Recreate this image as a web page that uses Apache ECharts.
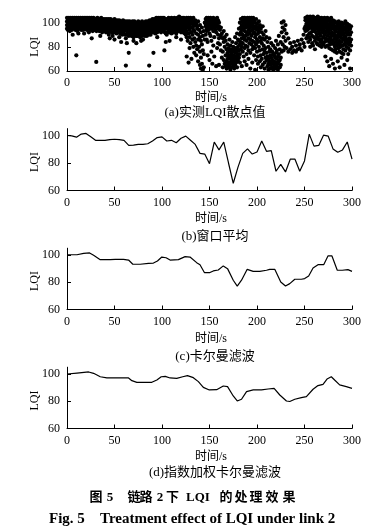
<!DOCTYPE html>
<html><head><meta charset="utf-8">
<script src="https://cdn.jsdelivr.net/npm/echarts@6/dist/echarts.min.js"></script>
<style>html,body{margin:0;padding:0;background:#fff}#c{width:385px;height:532px}</style>
</head><body><div id="c"></div>
<script>
// ---------- data ----------
const xTicks = [0, 50, 100, 150, 200, 250, 300];
const yTicks = [60, 80, 100];

// (a) measured LQI scatter: each column = [time, value, value, ...]
const scatterCols = [
[0,104,101,98,95],[1,103,100,97,94],[2,104,102,99,96],[3,102,99,96,93],[4,104,101,98,95],
[5,103,100,97,94],[6,104,102,98,96],[7,103,100,97,95],[8,104,101,99,96],[9,102,100,97,94],
[10,104,101,98,95],[11,103,100,96,93],[12,104,102,99,91],[13,103,100,97,95],[14,104,101,98,96],
[15,102,99,97,94],[16,104,101,98,95],[17,103,100,97,94],[18,104,102,99,96],[19,103,100,97,95],
[20,104,101,98,95],[21,102,99,96,94],[22,104,101,98,95],[23,103,100,97,92],[24,104,101,98,96],
[25,103,100,97,94],[26,104,101,98,95],[27,102,99,96,93],[28,104,101,98,95],[29,103,100,97,94],
[30,103,101,98,95],[31,102,99,96,93],[32,104,101,98,94],[33,103,100,97,95],[34,102,99,96,93],
[35,103,100,97,94],[36,104,101,98,95],[37,102,99,96,92],[38,103,100,97,94],[39,102,99,96,93],
[40,103,100,97,94],[41,102,99,96,92],[42,103,100,97,93],[43,101,98,95,92],[44,103,100,96,90],
[45,102,99,96,93],[46,103,100,97,94],[47,101,98,95,92],[48,102,99,96,89],[49,101,98,95,92],
[50,103,100,97,94],[51,102,99,95,92],[52,101,98,95,91],[53,102,99,96,93],[54,101,98,95,92],
[55,102,99,95,88],[56,100,97,94,91],[57,101,98,95,92],[58,100,97,94,90],[59,102,99,95,92],
[60,101,98,94,91],[61,100,97,94,90],[62,101,98,95,87],[63,100,97,93,90],[64,101,98,94,91],
[65,100,96,93,89],[66,101,98,94,90],[67,100,97,93,91],[68,99,96,93,89],[69,101,97,94,90],
[70,100,96,93,88],[71,101,98,94,91],[72,99,96,93,90],[73,100,97,94,89],[74,99,96,92,89],
[75,101,97,94,90],[76,100,96,93,91],[77,99,96,92,88],[78,100,97,94,90],[79,101,97,93,89],
[80,99,96,93,90],[81,100,97,94,91],[82,99,95,92,89],[83,101,97,94,90],[84,100,96,93,89],
[85,101,98,94,91],[86,100,97,93,90],[87,102,98,95,91],[88,101,97,94,90],[89,102,99,95,92],
[90,103,99,96,93],[91,102,98,95,92],[92,103,100,96,93],[93,102,99,95,91],[94,104,100,97,94],
[95,103,99,96,92],[96,104,101,97,94],[97,102,99,96,93],[98,104,100,97,94],[99,103,99,96,92],
[100,104,101,97,94],[101,102,99,96,93],[102,104,100,97,93],[103,103,99,96,92],[104,102,98,95,91],
[105,103,100,96,90],[106,102,99,95,92],[107,104,100,97,94],[108,103,99,96,92],[109,102,98,95,93],
[110,104,100,97,91],[111,103,99,96,94],[112,102,98,95,92],[113,104,100,97,93],[114,103,99,96,94],
[115,102,98,95,91],[116,104,101,97,94],[117,103,99,96,93],[118,105,101,98,95],[119,104,100,97,94],
[120,103,99,96,92],[121,104,101,97,94],[122,102,98,95,92],[123,104,100,96,93],[124,103,99,95,91],
[125,101,97,93,90],
[126,104,102,97,93,88,72],[127,103,99,96,85],[128,104,100,98,91,67],[129,102,97,94,88,79],
[130,104,101,99,83],[131,103,96,92,70],[132,101,99,90,86],[133,104,97,94,80],[134,100,93,87,75],
[135,102,98,84],[136,99,91,81,73],[137,97,95,78],[138,101,90,86,68],[139,94,80],[140,98,88,76,65],
[141,92,85,71,62],[142,96,82,66],[143,89,77,61],[144,93,74,63],[145,100,86],
[146,103,99,97,90],[147,104,102,95,93,86],[148,101,98,96,84,73],[149,104,100,94],[150,102,99,97,91,69],
[151,104,103,98,89],[152,100,96,95,85,76],[153,103,101,97,66],[154,104,99,93,81],[155,102,100,96,88,72],
[156,103,98,94],[157,101,97,92,64],[158,104,99,79],[159,102,95,90,83],[160,100,97,87,65],
[161,94,82],[162,96,89,77],[163,91,71],[164,87,76,63],[165,93,84,69],[166,88,80,66],[167,85,73,64],
[168,90,78,68,62],[169,82,75,70,65],[170,79,73,67,63],[171,86,76,72,64],[172,81,77,70,66,61],
[173,78,74,68,63],[174,84,76,71,66],[175,80,73,69,64],[176,77,72,67,62],[177,88,79,75,70,65],
[178,83,76,71,67],[179,91,78,73,68,63],[180,86,80,74,69],[181,95,85,77,71],[182,100,90,82,74,67],
[183,103,96,92,84,78],[184,98,94,87,80,64],[185,104,101,97,90,83,76],[186,102,99,95,88,72],
[187,104,100,93,86,79,68],[188,103,98,96,89,81],[189,101,99,92,85,74,65],[190,104,102,97,90,80],
[191,103,99,94,87,77,70],[192,104,100,96,91,83],[193,102,98,93,86,75,62],[194,104,101,97,89,82],
[195,103,99,94,85,78,67],[196,104,100,96,91,80],[197,102,97,92,84,73],[198,100,95,88,79,61],
[199,103,97,90,82,69],[200,99,94,86,76],[201,96,91,84,72,66],[202,101,93,80],[203,98,88,77,68],
[204,95,85,73,63],[205,92,83,70],[206,97,87,78,65],[207,90,81,74],[208,86,76,67,62],[209,93,79,71],
[210,88,75,69],[211,84,72,64],[212,80,70,66,61],[213,87,76,68],[214,78,73,65,62],[215,83,71,67],
[216,76,69,63],[217,81,74,66,61],[218,73,68,64],[219,79,71,65,62],[220,85,75,67,63],[221,77,70,64],
[222,82,72,66,61],[223,89,74,68],[224,78,69,63],[225,84,71,65],
[226,100,92,76],[227,96,82],[228,101,88,77],[229,94,80],[230,98,85],[231,91,79],[233,87,76],
[235,83,78],[237,80,75],[239,84,77],[241,81,76],[243,85,78],[245,79,82],[247,86,77],[249,83,90],[250,95,80],
[251,104,102,97,93],[252,103,99,96,87],[253,105,101,98,94,89],[254,104,100,95,84],[255,102,99,97,91,88],
[256,105,103,96,86,80],[257,104,100,98,92],[258,103,101,95,89,83],[259,105,99,97,93,81],[260,104,102,96,88],
[261,103,100,98,94,85,78],[262,104,97,92,87],[263,102,101,96,90,83],[264,105,99,95,88,82],[265,103,100,97,93,86],
[266,104,102,96,91,81],[267,101,98,94,89,84],[268,104,100,95,86,80],[269,103,99,97,92,83],[270,102,100,94,88,82],
[271,104,98,96,90,84],[272,103,101,93,87,80,72],[273,100,97,92,85],[274,104,99,95,89,81,68],[275,102,98,93,86],
[276,103,96,91,84,79,64],[277,101,99,94,88,82],[278,104,97,90,86,78,70],[279,100,95,92,83],[280,102,98,89,85,77,66],
[281,99,96,91,82],[282,101,94,87,80,76,62],[283,97,93,89,84,78],[284,100,95,86,81,75],[285,98,92,88,83,68],
[286,101,96,90,79],[287,99,94,85,82,76,63],[288,97,92,88,80],[289,100,95,90,84,75,71],[290,98,93,87,81],
[291,96,91,86,78,74],[292,99,94,89,82,65],[293,101,95,88,84,77],[294,97,92,86,80],[295,99,93,90,83,69],
[296,96,91,85,79,74],[297,98,94,87,82],[298,95,90,84,77,62],[299,97,92,86,81]
];
const scatterOutliers = [
[9.8,73],[30.8,67.5],[26,87],[57,84],[62,64.5],[65,75],[63,83],[73,83],[86.5,64.5],[91,75],
[102.5,77],[104,84],[108,85],[45,87],[50,86],[70,85],[80,86],[95,88],[115,88],[120,86],
[6,90],[18,91],[35,89],[78,85]
];

// (b) window average, every 5 s
const bTimes = [0,5,10,15,20,25,30,35,40,45,50,55,60,65,70,75,80,85,90,95,100,105,110,115,120,125,130,135,140,145,150,155,160,165,170,175,180,185,190,195,200,205,210,215,220,225,230,235,240,245,250,255,260,265,270,275,280,285,290,295,300];
const bValues = [100,99.75,98.75,101,101.5,99,96.5,96.5,96.5,97,97.25,97,96.5,92.75,93,93.5,93.5,94,96,98.5,99,96,96.5,94.75,98,99.5,96.5,93.5,87,86.5,79.5,95.25,89.5,95.25,80,65.25,77,87,90.25,86.5,88,96,88.5,89,74,79,73.5,82.75,82.75,74,81.5,101,92.25,92.75,100.25,99.5,90.25,87.75,89.5,95.25,82.75];

// (c) Kalman filter
const cTimes = [0,10.5,17.5,23.8,28,35,45.5,50.8,59.5,64.8,69.3,77,85.8,91,95.2,99.8,104.3,108.5,117.3,124.3,129.5,136.5,140,144.6,150.5,154,159.2,164.5,169,175,179.2,183.7,189.7,196,203,210,213.4,218.7,225,230,234.5,239.8,246.7,250.2,254.4,259,264.2,270.2,274.7,278.9,284.5,289.8,295.7,300];
const cValues = [100.2,100.2,101.2,101.5,99.8,96.6,96.6,96.8,96.8,96.3,93.2,93.2,93.9,94.1,95.6,98.5,98,96.3,96.6,98.8,98.5,94.4,92.9,87.1,87.1,88.3,89,92,90,81.5,77.1,81.5,89.5,88,88,88.8,89.5,89.5,80.2,77.3,79,82.2,82.2,82.7,84.6,90.5,92.9,92.9,99.3,99.3,88.8,88.8,89.3,88];

// (d) exponentially weighted Kalman filter
const dTimes = [0,10.5,22.8,28,35,42,52.5,64.8,68.3,73.5,82.3,89.3,94.6,99.2,103.4,108.5,115.5,121.8,126.8,133,138.3,143.5,149.8,157.5,164.5,169,175,179.2,183.7,189,196,204.7,211.7,218,224,231,234.5,239.8,246.7,252,259,264.2,269.5,273.7,278.2,281.7,287,294,300];
const dValues = [100,100.7,101.5,100.5,98,97.1,97.1,97.1,95.1,93.9,93.9,93.9,95.6,98,98.3,97.1,96.8,98,98.8,97.3,94.4,90.2,88.3,88.5,91.2,90.7,83.9,80.2,81.5,87.1,88.3,88.3,89,89.5,84.6,80.2,79.8,81.5,82.7,83.4,88.8,91.5,92.4,96.3,98,95.6,92,90.7,89.5];

const captions = ['(a)实测LQI散点值', '(b)窗口平均', '(c)卡尔曼滤波', '(d)指数加权卡尔曼滤波'];
const xName = '时间/s';
const yName = 'LQI';

// ---------- chart ----------
const scatterData = [];
scatterCols.forEach(c => { for (let i = 1; i < c.length; i++) scatterData.push([c[0], c[i]]); });
scatterOutliers.forEach(p => scatterData.push(p));
const zip = (t, v) => t.map((x, i) => [x, v[i]]);

const SERIF = '"Liberation Serif","Times New Roman",serif';
const MIX = '"Liberation Serif","Noto Sans CJK SC",serif';

const grids = [
  {left: 67, right: 33, top: 16.6, bottom: 461},
  {left: 67, right: 33, top: 128.6, bottom: 341.5},
  {left: 67, right: 33, top: 248.2, bottom: 222.5},
  {left: 67, right: 33, top: 367.2, bottom: 103.5}
];
const axisY = [46.7, 162, 281, 400.5];
const xNameY = [98, 218.7, 338.5, 456.5];
const capY = [113, 236.5, 356.5, 472.5];

const axisCommon = {
  axisLine: {show: true, lineStyle: {color: '#000', width: 1}},
  axisTick: {show: true, inside: true, length: 4, lineStyle: {color: '#000', width: 1}},
  splitLine: {show: false},
  axisLabel: {color: '#000', fontFamily: SERIF, fontSize: 12, margin: 6}
};

const xAxes = grids.map((g, i) => Object.assign({}, axisCommon, {
  type: 'value', gridIndex: i, min: 0, max: 300, interval: 50,
  axisLabel: Object.assign({}, axisCommon.axisLabel, {customValues: xTicks}),
  axisTick: Object.assign({}, axisCommon.axisTick, {customValues: xTicks})
}));
const yAxes = grids.map((g, i) => Object.assign({}, axisCommon, {
  type: 'value', gridIndex: i, min: 60, max: 105, interval: 20,
  axisLabel: Object.assign({}, axisCommon.axisLabel, {customValues: yTicks, margin: 7}),
  axisTick: Object.assign({}, axisCommon.axisTick, {customValues: yTicks})
}));

const graphic = [];
for (let i = 0; i < 4; i++) {
  graphic.push({type: 'text', x: 35, y: axisY[i], rotation: Math.PI / 2,
    style: {text: yName, font: '12px ' + SERIF, fill: '#000', align: 'center', verticalAlign: 'middle'}});
  graphic.push({type: 'text', x: 211, y: xNameY[i],
    style: {text: xName, font: '12px ' + MIX, fill: '#000', align: 'center', verticalAlign: 'middle'}});
  graphic.push({type: 'text', x: 215, y: capY[i],
    style: {text: captions[i], font: '13px ' + MIX, fill: '#000', align: 'center', verticalAlign: 'middle'}});
}
// figure caption (Chinese), letter-spaced pieces
const figCn = [['图',96],['5',110],['链',134],['路',146],['2',160],['下',172.5],['LQI',198],['的',226],['处',241],['理',256],['效',272],['果',289]];
figCn.forEach(p => graphic.push({type: 'text', x: p[1], y: 497.5,
  style: {text: p[0], font: 'bold 13px ' + MIX, fill: '#000', align: 'center', verticalAlign: 'middle'}}));
graphic.push({type: 'text', x: 49, y: 519.5,
  style: {text: 'Fig. 5', font: 'bold 15px ' + SERIF, fill: '#000', align: 'left', verticalAlign: 'middle'}});
graphic.push({type: 'text', x: 100, y: 519.5,
  style: {text: 'Treatment effect of LQI under link 2', font: 'bold 15px ' + SERIF, fill: '#000', align: 'left', verticalAlign: 'middle'}});

const lineStyle = {color: '#000', width: 1.2};
const chart = echarts.init(document.getElementById('c'), null, {renderer: 'canvas'});
chart.setOption({
  animation: false,
  backgroundColor: '#fff',
  grid: grids,
  xAxis: xAxes,
  yAxis: yAxes,
  graphic: graphic,
  series: [
    {type: 'scatter', xAxisIndex: 0, yAxisIndex: 0, data: scatterData, symbolSize: 4.2,
     itemStyle: {color: '#000', opacity: 1}, clip: true},
    {type: 'line', xAxisIndex: 1, yAxisIndex: 1, data: zip(bTimes, bValues), showSymbol: false, lineStyle: lineStyle},
    {type: 'line', xAxisIndex: 2, yAxisIndex: 2, data: zip(cTimes, cValues), showSymbol: false, lineStyle: lineStyle},
    {type: 'line', xAxisIndex: 3, yAxisIndex: 3, data: zip(dTimes, dValues), showSymbol: false, lineStyle: lineStyle}
  ]
});
</script></body></html>
